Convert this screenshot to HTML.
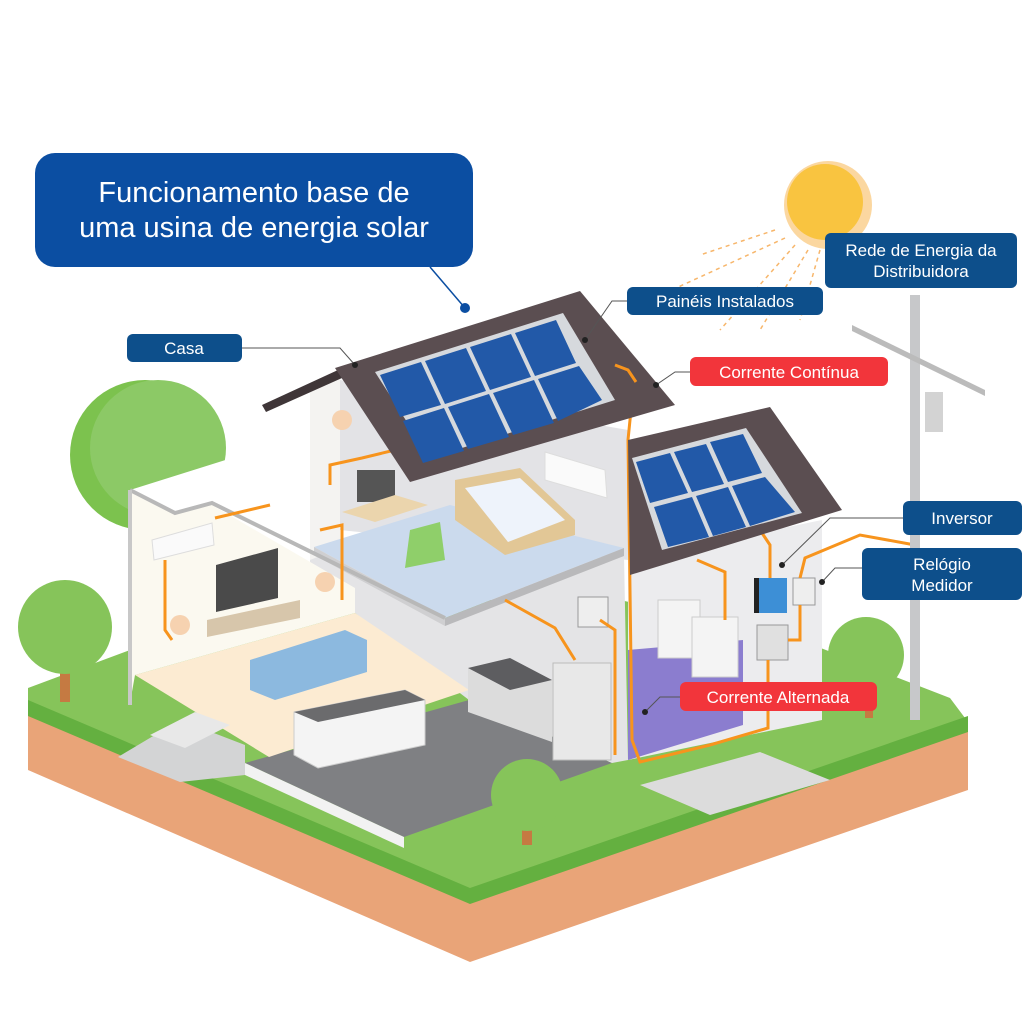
<!DOCTYPE html>
<html><head><meta charset="utf-8"><style>
html,body{margin:0;padding:0;background:#fff;width:1024px;height:1024px;overflow:hidden}
text{font-family:"Liberation Sans",sans-serif}
</style></head><body>
<svg width="1024" height="1024" viewBox="0 0 1024 1024" xmlns="http://www.w3.org/2000/svg">
<!-- soil -->
<polygon points="28,705 470,895 968,728 968,790 470,962 28,770" fill="#e9a478"/>
<!-- grass -->
<polygon points="28,688 130,650 300,600 620,600 800,640 950,698 968,722 470,895 28,705" fill="#86c45a"/>
<polygon points="28,700 470,888 968,716 968,732 470,904 28,716" fill="#64b040"/>
<!-- back trees -->
<circle cx="145" cy="455" r="75" fill="#7cc24e"/>
<circle cx="158" cy="448" r="68" fill="#8cc966"/>
<rect x="60" y="640" width="10" height="62" fill="#c57a42"/>
<circle cx="65" cy="627" r="47" fill="#86c45a"/>
<rect x="865" y="660" width="8" height="58" fill="#c57a42"/>
<circle cx="866" cy="655" r="38" fill="#86c45a"/>
<!-- pavement -->
<polygon points="640,785 760,752 830,780 710,815" fill="#dcdcdc"/>
<!-- kitchen floor -->
<polygon points="245,763 469,700 612,763 404,837" fill="#7f8083"/>
<polygon points="245,763 404,837 404,848 245,775" fill="#f2f2f2"/>
<!-- wall under slab -->
<polygon points="310,550 445,622 624,556 628,760 612,763 469,700 355,613 310,600" fill="#e4e4e6"/>
<!-- living floor -->
<polygon points="135,675 355,613 469,690 269,757" fill="#fcebd2"/>
<!-- stairs -->
<polygon points="118,757 180,720 245,745 245,775 180,782" fill="#d3d4d5"/>
<polygon points="150,735 195,712 230,725 185,748" fill="#e8e8e8"/>
<!-- right wing -->
<polygon points="628,560 822,520 822,720 628,760" fill="#ececee"/>
<polygon points="628,650 743,640 743,725 628,760" fill="#8b7dcf"/>
<!-- main back walls -->
<polygon points="310,390 340,375 340,548 310,560" fill="#f4f3f1"/>
<polygon points="340,380 628,430 628,560 340,530" fill="#e3e3e6"/>
<!-- upper floor slab -->
<polygon points="314,547 450,505 624,548 445,618" fill="#cbdaed"/>
<polygon points="314,547 445,618 445,626 314,555" fill="#cfcfd1"/>
<polygon points="445,618 624,548 624,556 445,626" fill="#b9b9bb"/>
<!-- white upper wall behind living room -->
<polygon points="130,490 235,457 310,445 310,555 212,505 175,513" fill="#ffffff"/>
<!-- left living room walls -->
<polygon points="130,490 175,513 212,505 355,588 355,613 135,675 130,703" fill="#fbf9f0"/>
<path d="M130 490 L175 513 L212 503 L445 618" fill="none" stroke="#b8b8b8" stroke-width="4"/>
<rect x="128" y="490" width="4" height="215" fill="#c8c8c8"/>
<!-- furniture upper -->
<polygon points="455,480 520,468 575,520 575,535 505,555 455,520" fill="#e2c796"/>
<polygon points="465,488 520,478 565,520 508,542" fill="#eef3fb"/>
<polygon points="545,452 605,470 607,498 545,480" fill="#fafafa" stroke="#ddd"/>
<rect x="357" y="470" width="38" height="32" fill="#555"/>
<polygon points="342,512 395,495 428,505 375,522" fill="#ebd5ad"/>
<polygon points="410,530 440,522 445,560 405,568" fill="#8fcf6a"/>
<!-- living furniture -->
<polygon points="152,540 212,523 214,545 154,560" fill="#fafafa" stroke="#ddd"/>
<polygon points="216,565 278,548 278,598 216,612" fill="#4a4a4a"/>
<polygon points="207,620 300,600 300,618 207,637" fill="#d7c6ab"/>
<polygon points="250,660 345,630 367,640 367,672 275,700 250,690" fill="#8cb9df"/>
<polygon points="294,712 405,690 425,700 425,745 318,768 294,755" fill="#f4f4f4" stroke="#ccc"/>
<polygon points="294,712 405,690 425,700 318,722" fill="#6b6b6d"/>
<circle cx="180" cy="625" r="10" fill="#f6d2b0"/><circle cx="325" cy="582" r="10" fill="#f6d2b0"/><circle cx="342" cy="420" r="10" fill="#f6d2b0"/>
<!-- kitchen -->
<polygon points="468,668 510,658 552,680 552,742 468,712" fill="#dcdcdc"/>
<polygon points="468,668 510,658 552,680 510,690" fill="#5d5d60"/>
<rect x="553" y="663" width="58" height="97" fill="#e8e8e8" stroke="#bbb"/>
<rect x="578" y="597" width="30" height="30" fill="#eee" stroke="#999"/>
<!-- laundry + equipment -->
<rect x="658" y="600" width="42" height="58" fill="#f4f4f4" stroke="#ccc"/>
<rect x="692" y="617" width="46" height="60" fill="#f4f4f4" stroke="#ccc"/>
<rect x="757" y="578" width="30" height="35" fill="#3d8fd6"/>
<rect x="754" y="578" width="5" height="35" fill="#222"/>
<rect x="793" y="578" width="22" height="27" fill="#eee" stroke="#999"/>
<rect x="757" y="625" width="31" height="35" fill="#e0e0e0" stroke="#999"/>
<!-- wires -->
<g fill="none" stroke="#f7941d" stroke-width="3">
<path d="M618 363 L628 368 L635 380 L630 420 L628 440 L632 740 L640 762 L710 745 L768 728 L768 660"/>
<path d="M760 530 L770 545 L770 578"/>
<path d="M800 578 L805 558 L860 535 L915 545"/>
<path d="M788 640 L800 640 L800 605"/>
<path d="M505 600 L555 628 L575 660"/>
<path d="M600 620 L615 630 L615 755"/>
<path d="M697 560 L725 572 L725 620"/>
<path d="M330 485 L330 465 L362 458 L395 450 M215 518 L270 505 M165 560 L165 630 L172 640 M320 530 L342 525 L342 600"/>
</g>
<!-- roofs -->
<polygon points="262,405 338,370 342,378 266,412" fill="#3f3638"/>
<polygon points="335,368 580,291 675,405 410,482" fill="#5b4e51"/>
<polygon points="375,372 563,313 615,400 430,458" fill="#d6d9dd"/>
<g fill="#2259a8">
<polygon points="380,375 421,362 441,405 400,417"/><polygon points="425,361 466,348 486,391 445,404"/><polygon points="470,347 511,334 531,377 490,390"/><polygon points="515,333 556,320 576,363 535,376"/>
<polygon points="403,421 444,408 464,451 423,463"/><polygon points="448,407 489,394 509,437 468,449"/><polygon points="493,393 534,380 554,423 513,435"/><polygon points="538,379 579,366 602,400 558,421"/>
</g>
<path d="M615 365 L628 370 L636 382" stroke="#f7941d" stroke-width="3" fill="none"/>
<polygon points="628,440 770,407 842,510 630,575" fill="#5b4e51"/>
<polygon points="632,458 746,428 802,513 662,550" fill="#d6d9dd"/>
<g fill="#2259a8">
<polygon points="636,462 670,453 688,493 650,503"/><polygon points="674,452 706,444 724,484 692,492"/><polygon points="710,442 743,434 762,473 728,482"/>
<polygon points="654,507 692,497 709,537 668,547"/><polygon points="696,496 728,487 746,527 713,536"/><polygon points="732,486 765,477 795,512 750,526"/>
</g>
<!-- front tree -->
<rect x="522" y="800" width="10" height="45" fill="#c57a42"/>
<circle cx="527" cy="795" r="36" fill="#86c45a"/>
<!-- pole -->
<rect x="910" y="295" width="10" height="425" fill="#c7c8ca"/>
<polygon points="852,325 985,390 985,396 852,331" fill="#bbb"/>
<rect x="925" y="392" width="18" height="40" fill="#d3d3d3"/>
<!-- sun -->
<circle cx="828" cy="205" r="44" fill="#fbd7a0"/>
<circle cx="825" cy="202" r="38" fill="#f9c440"/>
<g stroke="#f7b66b" stroke-width="1.5" stroke-dasharray="4 4" fill="none">
<path d="M785 238 L650 300"/><path d="M795 245 L720 330"/><path d="M808 250 L760 330"/><path d="M820 250 L800 320"/><path d="M775 230 L700 255"/>
</g>
<!-- title -->
<rect x="35" y="153" width="438" height="114" rx="20" fill="#0b4ea2"/>
<text x="254" y="202" font-size="29" fill="#fff" text-anchor="middle">Funcionamento base de</text>
<text x="254" y="237" font-size="29" fill="#fff" text-anchor="middle">uma usina de energia solar</text>
<line x1="430" y1="267" x2="465" y2="308" stroke="#0b4ea2" stroke-width="1.5"/>
<circle cx="465" cy="308" r="5" fill="#0b4ea2"/>
<!-- leaders -->
<g stroke="#555" stroke-width="1" fill="none">
<path d="M242 348 L340 348 L355 365"/><path d="M627 301 L612 301 L585 340"/><path d="M690 372 L675 372 L656 385"/>
<path d="M903 518 L830 518 L782 565"/><path d="M862 568 L835 568 L822 582"/><path d="M680 697 L660 697 L645 712"/>
</g>
<g fill="#222"><circle cx="585" cy="340" r="3"/><circle cx="656" cy="385" r="3"/><circle cx="355" cy="365" r="3"/><circle cx="782" cy="565" r="3"/><circle cx="822" cy="582" r="3"/><circle cx="645" cy="712" r="3"/></g>
<!-- labels -->
<g font-size="17" fill="#fff" text-anchor="middle">
<rect x="127" y="334" width="115" height="28" rx="6" fill="#0d4f8b"/><text x="184" y="354">Casa</text>
<rect x="627" y="287" width="196" height="28" rx="6" fill="#0d4f8b"/><text x="725" y="307">Painéis Instalados</text>
<rect x="690" y="357" width="198" height="29" rx="6" fill="#f2353b"/><text x="789" y="378">Corrente Contínua</text>
<rect x="825" y="233" width="192" height="55" rx="6" fill="#0d4f8b"/><text x="921" y="256">Rede de Energia da</text><text x="921" y="277">Distribuidora</text>
<rect x="903" y="501" width="119" height="34" rx="6" fill="#0d4f8b"/><text x="962" y="524">Inversor</text>
<rect x="862" y="548" width="160" height="52" rx="6" fill="#0d4f8b"/><text x="942" y="570">Relógio</text><text x="942" y="591">Medidor</text>
<rect x="680" y="682" width="197" height="29" rx="6" fill="#f2353b"/><text x="778" y="703">Corrente Alternada</text>
</g>
</svg>
</body></html>
